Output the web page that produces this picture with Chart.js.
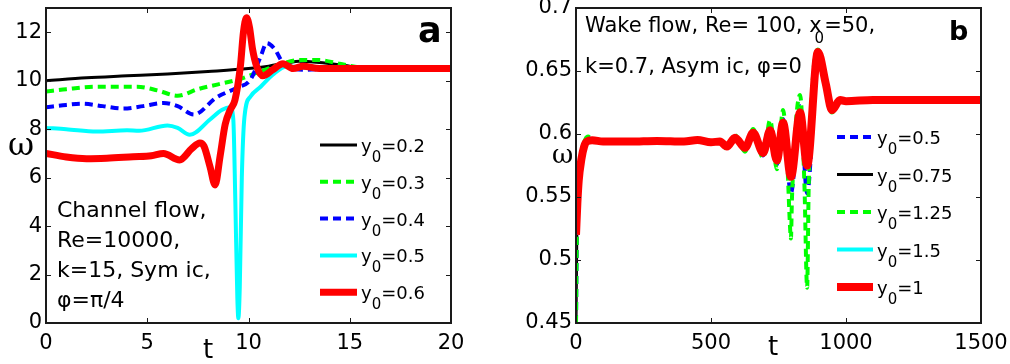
<!DOCTYPE html>
<html>
<head>
<meta charset="utf-8">
<script src="https://cdn.jsdelivr.net/npm/chart.js@4.4.1/dist/chart.umd.min.js"></script>
<style>
  html, body { margin: 0; padding: 0; background: #fff; }
  #wrap { position: relative; width: 1010px; height: 364px; }
  canvas { position: absolute; top: 0; }
  #chartA { left: 0; }
  #chartB { left: 505px; }
</style>
</head>
<body>
<div id="wrap">
  <canvas id="chartA" width="505" height="364"></canvas>
  <canvas id="chartB" width="505" height="364"></canvas>
</div>
<script>
// ---- panel a : channel flow ----
const xTicksA = [0, 5, 10, 15, 20];
const yTicksA = [0, 2, 4, 6, 8, 10, 12];
const y0A = ["0.2", "0.3", "0.4", "0.5", "0.6"];

const tBlackA = [0, 2, 4, 6, 8, 10, 11, 12, 12.5, 13.5, 15, 16, 17, 20];
const wBlackA = [10.0, 10.12, 10.2, 10.28, 10.38, 10.5, 10.6, 10.75, 10.8, 10.75, 10.6, 10.52, 10.5, 10.5];

const tGreenA = [0, 1, 2.5, 4.5, 5.5, 6.5, 7.5, 8.5, 9.5, 10.5, 11.5, 12.5, 13.5, 14.5, 15.5, 17, 20];
const wGreenA = [9.55, 9.65, 9.75, 9.75, 9.6, 9.38, 9.65, 9.85, 10.05, 10.35, 10.65, 10.85, 10.85, 10.7, 10.55, 10.5, 10.5];

const tBlueA = [0, 1, 1.8, 2.8, 3.8, 4.8, 5.8, 6.5, 7.3, 8.4, 9.4, 10.1, 10.6, 10.9, 11.3, 11.65, 12.2, 12.9, 14, 20];
const wBlueA = [8.9, 9.0, 9.05, 8.95, 8.85, 8.95, 9.08, 8.95, 8.6, 9.3, 9.7, 10.05, 11.0, 11.55, 11.3, 10.8, 10.5, 10.45, 10.5, 10.5];

const tCyanA = [0, 1, 2.5, 4, 4.6, 6, 6.5, 7.1, 8.1, 8.7, 9.1, 9.25, 9.35, 9.45, 9.5, 9.57, 9.67, 9.8, 10.1, 10.6, 11.2, 11.9, 12.5, 14, 20];
const wCyanA = [8.05, 8.0, 7.9, 7.95, 7.93, 8.15, 8.05, 7.77, 8.4, 8.8, 8.9, 8.4, 5, 1, 0.2, 1.5, 6, 8.5, 9.35, 9.75, 10.25, 10.6, 10.55, 10.5, 10.5];

const tRedA = [0, 1, 2, 3, 4.3, 5.2, 5.8, 6.6, 7.2, 7.6, 7.8, 8.1, 8.35, 8.6, 8.85, 9.1, 9.33, 9.6, 9.75, 9.9, 10.05, 10.2, 10.4, 10.7, 11.2, 11.7, 12.2, 12.7, 13.5, 20];
const wRedA = [7.0, 6.85, 6.78, 6.8, 6.86, 6.9, 7.0, 6.73, 7.2, 7.43, 7.3, 6.45, 5.7, 6.9, 8.2, 8.8, 9.2, 10.6, 12.0, 12.6, 12.2, 11.3, 10.6, 10.2, 10.45, 10.7, 10.5, 10.6, 10.5, 10.5];

// ---- panel b : wake flow ----
const xTicksB = [0, 500, 1000, 1500];
const yTicksB = [0.45, 0.5, 0.55, 0.6, 0.65, 0.7];
const y0B = ["0.5", "0.75", "1.25", "1.5", "1"];

const tBlueB = [0, 3, 8, 20, 35, 45, 60, 100, 200, 300, 400, 450, 500, 533, 559, 589, 626, 656, 693, 719, 744, 767, 796, 830, 856, 896, 948, 978, 1000, 1500];
const wBlueB = [0.45, 0.52, 0.555, 0.58, 0.594, 0.597, 0.595, 0.594, 0.594, 0.5945, 0.594, 0.5952, 0.5935, 0.594, 0.589, 0.598, 0.588, 0.602, 0.583, 0.606, 0.576, 0.612, 0.553, 0.622, 0.553, 0.666, 0.618, 0.627, 0.626, 0.627];

const tBlackB = [0, 3, 8, 20, 35, 45, 60, 100, 200, 300, 400, 450, 500, 533, 559, 589, 626, 656, 693, 719, 744, 767, 796, 830, 856, 896, 948, 978, 1000, 1500];
const wBlackB = [0.45, 0.52, 0.556, 0.58, 0.593, 0.595, 0.595, 0.594, 0.594, 0.5945, 0.594, 0.5952, 0.5935, 0.594, 0.590, 0.597, 0.589, 0.601, 0.585, 0.603, 0.579, 0.609, 0.566, 0.617, 0.575, 0.665, 0.619, 0.627, 0.626, 0.627];

const tGreenB = [0, 3, 8, 20, 35, 45, 60, 100, 200, 300, 400, 450, 500, 533, 559, 589, 626, 656, 693, 719, 744, 767, 782, 793, 796, 800, 830, 846, 856, 862, 896, 948, 978, 1000, 1500];
const wGreenB = [0.45, 0.52, 0.56, 0.585, 0.596, 0.598, 0.595, 0.594, 0.594, 0.5945, 0.594, 0.5952, 0.5935, 0.595, 0.588, 0.599, 0.586, 0.604, 0.581, 0.611, 0.572, 0.619, 0.58, 0.525, 0.517, 0.55, 0.631, 0.56, 0.478, 0.56, 0.667, 0.617, 0.627, 0.626, 0.627];

const tCyanB = [0, 5, 10, 20, 30, 40, 60, 100, 200, 300, 400, 450, 500, 533, 559, 589, 626, 656, 693, 719, 744, 767, 796, 830, 856, 896, 925, 948, 978, 1000, 1500];
const wCyanB = [0.52, 0.545, 0.563, 0.58, 0.59, 0.594, 0.595, 0.594, 0.594, 0.5945, 0.594, 0.5952, 0.5935, 0.594, 0.59, 0.597, 0.589, 0.601, 0.585, 0.603, 0.579, 0.609, 0.566, 0.617, 0.575, 0.664, 0.645, 0.62, 0.627, 0.626, 0.627];

const tRedB = [0, 5, 10, 20, 30, 40, 60, 100, 200, 300, 400, 450, 500, 533, 559, 589, 626, 656, 693, 719, 744, 767, 796, 830, 856, 896, 925, 948, 978, 1000, 1100, 1500];
const wRedB = [0.52, 0.545, 0.563, 0.58, 0.59, 0.594, 0.595, 0.594, 0.594, 0.5945, 0.594, 0.5952, 0.5935, 0.594, 0.59, 0.597, 0.589, 0.601, 0.585, 0.603, 0.579, 0.609, 0.566, 0.617, 0.575, 0.665, 0.64, 0.619, 0.627, 0.626, 0.627, 0.627];

Chart.defaults.font.family = "'DejaVu Sans'";
Chart.defaults.color = "#000";

const pts = (ts, ws) => ts.map((t, i) => ({ x: t, y: ws[i] }));

const line = (label, ts, ws, color, width, dash, order) => ({
  label: label,
  data: pts(ts, ws),
  borderColor: color,
  borderWidth: width,
  borderDash: dash,
  borderJoinStyle: "round",
  pointRadius: 0,
  cubicInterpolationMode: "monotone",
  order: order,
});

// draws a string made of normal and subscript pieces
const drawRich = (ctx, x, y, segs, font, subFont) => {
  segs.forEach((s) => {
    ctx.font = s.sub ? subFont : font;
    const dx = s.dx || 0;
    ctx.fillText(s.t, x + dx, y + (s.sub ? (s.dy || 9) : 0));
    x += dx + ctx.measureText(s.t).width;
  });
};

// box with inward ticks like matlab
const boxPlugin = {
  id: "matlabBox",
  afterDatasetsDraw(chart) {
    const { ctx, chartArea: a, scales } = chart;
    ctx.save();
    ctx.strokeStyle = "#1a1a1a";
    ctx.lineWidth = 1;
    ctx.beginPath();
    scales.x.ticks.forEach((t) => {
      const px = Math.round(scales.x.getPixelForValue(t.value)) + 0.5;
      ctx.moveTo(px, a.bottom);
      ctx.lineTo(px, a.bottom - 5);
      ctx.moveTo(px, a.top);
      ctx.lineTo(px, a.top + 5);
    });
    scales.y.ticks.forEach((t) => {
      const py = Math.round(scales.y.getPixelForValue(t.value)) + 0.5;
      ctx.moveTo(a.left, py);
      ctx.lineTo(a.left + 5, py);
      ctx.moveTo(a.right, py);
      ctx.lineTo(a.right - 5, py);
    });
    ctx.stroke();
    ctx.lineWidth = 2;
    ctx.strokeRect(a.left, a.top, a.right - a.left, a.bottom - a.top);
    ctx.restore();
  },
};

const textPlugin = (cfg) => ({
  id: "panelText",
  afterDraw(chart) {
    const ctx = chart.ctx;
    ctx.save();
    ctx.fillStyle = "#000";
    ctx.textBaseline = "alphabetic";
    cfg.legendOrder.forEach((di, row) => {
      const ds = chart.data.datasets[di];
      const y = cfg.legendTop + row * cfg.legendStep;
      ctx.strokeStyle = ds.borderColor;
      ctx.lineWidth = ds.borderWidth;
      ctx.setLineDash(ds.borderDash || []);
      ctx.beginPath();
      ctx.moveTo(cfg.legendX0, y);
      ctx.lineTo(cfg.legendX1, y);
      ctx.stroke();
      ctx.setLineDash([]);
      drawRich(ctx, cfg.legendX1 + 4, y + 7,
        [{ t: "y" }, { t: "0", sub: true, dy: 10 }, { t: "=" + ds.label }],
        "18px 'DejaVu Sans'", "15px 'DejaVu Sans'");
    });
    cfg.notes.forEach((n) => {
      drawRich(ctx, n.x, n.y, n.segs, n.font, n.subFont || n.font);
    });
    ctx.restore();
  },
});

const axisOpts = (min, max, tickVals, size, isX) => ({
  type: "linear",
  min: min,
  max: max,
  grid: { display: false, drawTicks: false },
  border: { display: false },
  ticks: {
    font: { size: 21 },
    color: "#000",
    padding: isX ? 8 : 4,
    maxRotation: 0,
    autoSkip: false,
    callback: (v) => String(v),
  },
  afterBuildTicks: (s) => { s.ticks = tickVals.map((v) => ({ value: v })); },
  afterFit: (s) => {
    if (isX) { s.height = size; s.paddingLeft = 0; s.paddingRight = 0; }
    else { s.width = size; s.paddingTop = 0; s.paddingBottom = 0; }
  },
});

new Chart(document.getElementById("chartA"), {
  type: "line",
  data: {
    datasets: [
      line(y0A[0], tBlackA, wBlackA, "#000000", 3, [], 4),
      line(y0A[1], tGreenA, wGreenA, "#00ff00", 4, [8, 5], 3),
      line(y0A[2], tBlueA, wBlueA, "#0000ff", 4, [8, 5], 2),
      line(y0A[3], tCyanA, wCyanA, "#00ffff", 4, [], 1),
      line(y0A[4], tRedA, wRedA, "#ff0000", 7, [], 0),
    ],
  },
  options: {
    responsive: false,
    animation: false,
    layout: { padding: { left: 0, top: 8, right: 54, bottom: 0 } },
    plugins: { legend: { display: false }, tooltip: { enabled: false } },
    scales: {
      x: axisOpts(0, 20, xTicksA, 41, true),
      y: axisOpts(0, 13, yTicksA, 46, false),
    },
  },
  plugins: [boxPlugin, textPlugin({
    legendOrder: [0, 1, 2, 3, 4],
    legendTop: 145, legendStep: 36.8, legendX0: 320, legendX1: 357,
    notes: [
      { x: 57, y: 217, font: "22px 'DejaVu Sans'", segs: [{ t: "Channel flow," }] },
      { x: 57, y: 247, font: "22px 'DejaVu Sans'", segs: [{ t: "Re=10000," }] },
      { x: 57, y: 277, font: "22px 'DejaVu Sans'", segs: [{ t: "k=15, Sym ic," }] },
      { x: 57, y: 307, font: "22px 'DejaVu Sans'", segs: [{ t: "\u03c6=\u03c0/4" }] },
      { x: 418, y: 42, font: "bold 35px 'DejaVu Sans'", segs: [{ t: "a" }] },
      { x: 203, y: 358, font: "26px 'DejaVu Sans'", segs: [{ t: "t" }] },
      { x: 8, y: 155, font: "32px 'DejaVu Serif'", segs: [{ t: "\u03c9" }] },
    ],
  })],
});

new Chart(document.getElementById("chartB"), {
  type: "line",
  data: {
    datasets: [
      line(y0B[0], tBlueB, wBlueB, "#0000ff", 4, [8, 5], 4),
      line(y0B[1], tBlackB, wBlackB, "#000000", 3, [], 3),
      line(y0B[2], tGreenB, wGreenB, "#00ff00", 4, [8, 5], 2),
      line(y0B[3], tCyanB, wCyanB, "#00ffff", 4, [], 1),
      line(y0B[4], tRedB, wRedB, "#ff0000", 8, [], 0),
    ],
  },
  options: {
    responsive: false,
    animation: false,
    layout: { padding: { left: 0, top: 8, right: 29, bottom: 0 } },
    plugins: { legend: { display: false }, tooltip: { enabled: false } },
    scales: {
      x: axisOpts(0, 1500, xTicksB, 41, true),
      y: axisOpts(0.45, 0.7, yTicksB, 71, false),
    },
  },
  plugins: [boxPlugin, textPlugin({
    legendOrder: [0, 1, 2, 3, 4],
    legendTop: 137, legendStep: 37.5, legendX0: 332, legendX1: 368,
    notes: [
      { x: 80, y: 32, font: "21px 'DejaVu Sans'", subFont: "15px 'DejaVu Sans'",
        segs: [{ t: "Wake flow, Re= 100, x" }, { t: "0", sub: true, dx: -7, dy: 11 }, { t: "=50," }] },
      { x: 80, y: 73, font: "21px 'DejaVu Sans'", segs: [{ t: "k=0.7, Asym ic, \u03c6=0" }] },
      { x: 444, y: 40, font: "bold 27px 'DejaVu Sans'", segs: [{ t: "b" }] },
      { x: 263, y: 355, font: "26px 'DejaVu Sans'", segs: [{ t: "t" }] },
      { x: 47, y: 163, font: "26px 'DejaVu Serif'", segs: [{ t: "\u03c9" }] },
    ],
  })],
});
</script>
</body>
</html>
